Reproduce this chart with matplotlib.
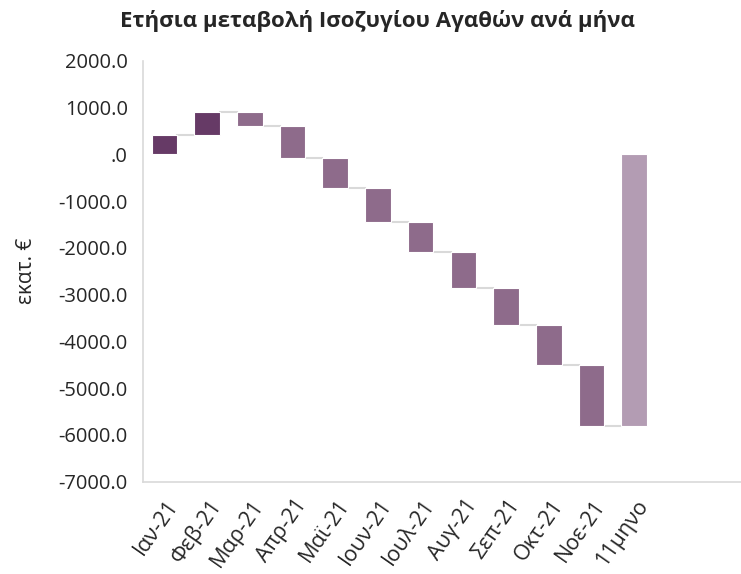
import numpy as np
import matplotlib
matplotlib.use("Agg")
import matplotlib.pyplot as plt
import matplotlib.transforms as mtransforms
from matplotlib.ticker import FuncFormatter

plt.rcParams['font.family'] = ['Open Sans', 'Noto Sans', 'DejaVu Sans']

# data (εκατ. €)
months = ['Ιαν-21', 'Φεβ-21', 'Μαρ-21', 'Απρ-21', 'Μαϊ-21', 'Ιουν-21',
          'Ιουλ-21', 'Αυγ-21', 'Σεπ-21', 'Οκτ-21', 'Νοε-21']
changes = [420, 490, -300, -695, -635, -725, -640, -765, -810, -850, -1300]
total_label = '11μηνο'

col_up = '#663a66'
col_down = '#8e6b8b'
col_total = '#b39cb3'
grey = '#d9d9d9'
txt = '#262626'

cum = np.cumsum(changes)
starts = np.concatenate([[0], cum[:-1]])
total = cum[-1]
x = np.arange(len(months))
w = 0.6

fig = plt.figure(figsize=(7.41, 5.74), dpi=100)
ax = fig.add_axes([0.193, 0.161, 0.807, 0.733])

colors = [col_up if c > 0 else col_down for c in changes]
ax.bar(x, changes, bottom=starts, width=w, color=colors, edgecolor='white', linewidth=0.8, zorder=3)
ax.bar(len(months), total, width=w, color=col_total, edgecolor='white', linewidth=0.8, zorder=3)

# connectors between bars
for i in range(len(months)):
    ax.plot([i + w / 2, i + 1 - w / 2], [cum[i], cum[i]], color=grey, lw=1.5, zorder=2)

ax.set_xlim(-0.5, 13.5)
ax.set_ylim(-7000, 2000)
ax.set_yticks(np.arange(-7000, 2001, 1000))
ax.yaxis.set_major_formatter(FuncFormatter(lambda v, p: '.0' if v == 0 else f'{v:.1f}'))
ax.set_xticks(np.arange(len(months) + 1))
ax.set_xticklabels(months + [total_label], rotation=55, ha='right', va='center',
                   rotation_mode='anchor')

ax.tick_params(axis='y', length=0, labelsize=14.5, colors=txt, pad=11)
ax.tick_params(axis='x', length=0, labelsize=15.5, colors=txt, pad=0)
for s in ['top', 'right']:
    ax.spines[s].set_visible(False)
for s in ['left', 'bottom']:
    ax.spines[s].set_color(grey)
    ax.spines[s].set_linewidth(1.2)

# push the rotated labels down/right like the original (px at dpi 100)
# done after tick_params, which resets the label transforms
shift = mtransforms.ScaledTranslation(10 / 100, -20 / 100, fig.dpi_scale_trans)
for lab in ax.get_xticklabels():
    lab.set_transform(lab.get_transform() + shift)

ax.set_ylabel('εκατ. €', fontsize=15, color=txt)
ax.yaxis.set_label_coords(-0.177, 0.5)

fig.text(0.509, 0.963, 'Ετήσια μεταβολή Ισοζυγίου Αγαθών ανά μήνα', ha='center', va='center',
         fontsize=16, fontweight='bold', color=txt)

fig.savefig('out.png', dpi=100)
